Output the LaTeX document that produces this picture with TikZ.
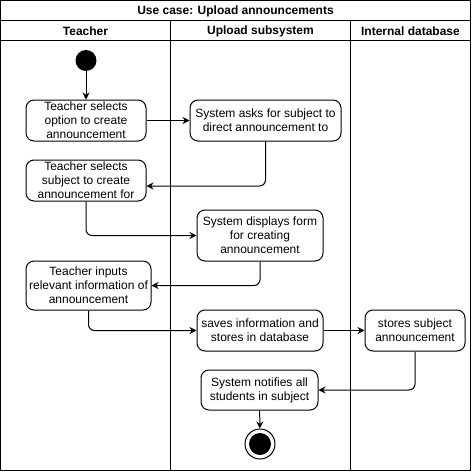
\documentclass[tikz,border=0pt]{standalone}
\usepackage{fontspec}
\setmainfont{Liberation Sans}
\usetikzlibrary{arrows.meta,calc}
\begin{document}
\begin{tikzpicture}[x=1pt,y=-1pt,
  act/.style={draw, rounded corners=8pt, line width=1pt, align=center, inner sep=0pt, font=\fontsize{12}{14}\selectfont},
  flow/.style={-{Stealth[length=7pt,width=7pt]}, line width=1pt, rounded corners=6pt},
  frame/.style={draw, line width=1pt},
  hdr/.style={font=\bfseries\fontsize{12}{14}\selectfont}]
\useasboundingbox (0,0) rectangle (472,472);
% swimlane frame
\draw[frame] (0.5,0.5) rectangle (470.5,470.5);
\draw[frame] (0.5,20.5) -- (470.5,20.5);
\draw[frame] (0.5,40.5) -- (470.5,40.5);
\draw[frame] (170.5,20.5) -- (170.5,470.5);
\draw[frame] (350.5,20.5) -- (350.5,470.5);
\node[hdr] (title) at (235.5,11) {Use case: Upload announcements};
\node[hdr] (hteacher) at (85.5,31) {Teacher};
\node[hdr] (hupload) at (260.5,31) {Upload subsystem};
\node[hdr] (hdb) at (410.5,31) {Internal database};
% start / end
\node[circle, fill=black, minimum size=21pt, inner sep=0pt] (start) at (86,60.5) {};
\node[circle, draw, line width=1pt, minimum size=30pt, inner sep=0pt] (end) at (260,444) {};
\node[circle, fill=black, minimum size=22pt, inner sep=0pt] (endin) at (end) {};
% activities
\node[act, minimum width=120pt, minimum height=41pt] (b1) at (86,120.5) {Teacher selects\\option to create\\announcement};
\node[act, minimum width=151pt, minimum height=41pt] (b2) at (265.5,120.5) {System asks for subject to\\direct announcement to};
\node[act, minimum width=120pt, minimum height=41pt] (b3) at (86,180.5) {Teacher selects\\subject to create\\announcement for};
\node[act, minimum width=126pt, minimum height=51pt] (b4) at (260,235.5) {System displays form\\for creating\\announcement};
\node[act, minimum width=125pt, minimum height=49pt] (b5) at (88.5,285.5) {Teacher inputs\\relevant information of\\announcement};
\node[act, minimum width=126pt, minimum height=41pt] (b6) at (260,330.5) {saves information and\\stores in database};
\node[act, minimum width=100pt, minimum height=41pt] (b7) at (415,330.5) {stores subject\\announcement};
\node[act, minimum width=117pt, minimum height=40pt] (b8) at (259.5,390) {System notifies all\\students in subject};
% connectors
\draw[flow] (start) -- (b1);
\draw[flow] (b1) -- (b2);
\draw[flow] (b2.south) |- ($(b3.east)+(0,5.5)$);
\draw[flow] (b3.south) |- (b4.west);
\draw[flow] (b4.south) |- (b5.east);
\draw[flow] (b5.south) |- (b6.west);
\draw[flow] (b6) -- (b7);
\draw[flow] (b7.south) |- (b8.east);
\draw[flow] (b8) -- (end);
\end{tikzpicture}
\end{document}
